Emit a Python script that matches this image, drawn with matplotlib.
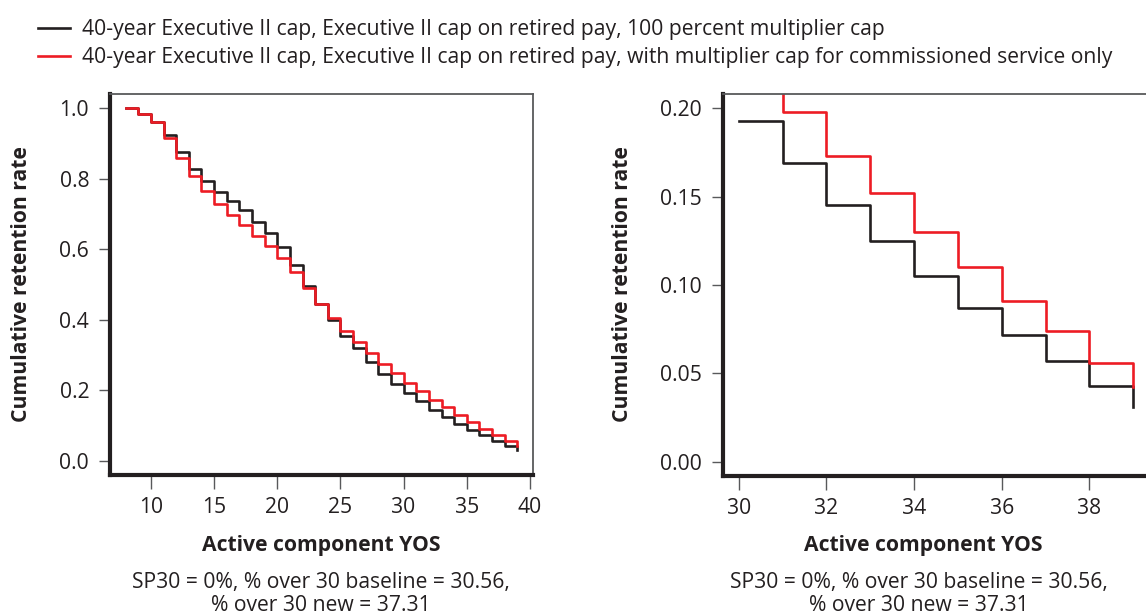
import matplotlib
matplotlib.use("Agg")
import matplotlib.pyplot as plt
from matplotlib.ticker import FormatStrFormatter

plt.rcParams["font.family"] = ["Open Sans", "DejaVu Sans"]

# Retention by active component YOS (values held from each year to the next)
yos = list(range(8, 40))
retention_100pct_cap = [1.000, 0.984, 0.960, 0.925, 0.875, 0.828, 0.794, 0.763,
                        0.737, 0.712, 0.678, 0.645, 0.606, 0.556, 0.495, 0.445,
                        0.400, 0.354, 0.319, 0.281, 0.247, 0.219, 0.193, 0.169,
                        0.145, 0.125, 0.105, 0.087, 0.072, 0.057, 0.043, 0.031]
retention_comm_cap = [1.000, 0.984, 0.960, 0.915, 0.859, 0.807, 0.766, 0.729,
                      0.697, 0.668, 0.637, 0.608, 0.576, 0.536, 0.490, 0.445,
                      0.406, 0.369, 0.338, 0.305, 0.274, 0.249, 0.222, 0.198,
                      0.173, 0.152, 0.130, 0.110, 0.091, 0.074, 0.056, 0.0425]

legend_labels = [
    "40-year Executive II cap, Executive II cap on retired pay, 100 percent multiplier cap",
    "40-year Executive II cap, Executive II cap on retired pay, with multiplier cap for commissioned service only",
]
xlabel = "Active component YOS"
ylabel = "Cumulative retention rate"
note = "SP30 = 0%, % over 30 baseline = 30.56,\n% over 30 new = 37.31"

BLACK = "#231f20"
RED = "#ed1c24"
GRAY = "#58595b"
FS = 15.2

W, H = 1146, 614
fig = plt.figure(figsize=(W / 100, H / 100), dpi=100)


def px_box(x0, x1, y0, y1):
    return [x0 / W, 1 - y1 / H, (x1 - x0) / W, (y1 - y0) / H]


ax1 = fig.add_axes(px_box(110, 533, 94, 475))
ax2 = fig.add_axes(px_box(723, 1149, 94, 476))

# full range on the left, zoom on 30+ YOS on the right
i30 = yos.index(30)
panels = [
    (ax1, yos, retention_100pct_cap, retention_comm_cap),
    (ax2, yos[i30:], retention_100pct_cap[i30:], retention_comm_cap[i30:]),
]
for ax, x, y_black, y_red in panels:
    l1, = ax.step(x, y_black, where="post", color=BLACK, lw=1.9)
    l2, = ax.step(x, y_red, where="post", color=RED, lw=1.9)
    for side in ("left", "bottom"):
        ax.spines[side].set_linewidth(3.0)
        ax.spines[side].set_color(BLACK)
    for side in ("top", "right"):
        ax.spines[side].set_linewidth(1.3)
        ax.spines[side].set_color(GRAY)
    ax.tick_params(axis="both", direction="out", color=GRAY, width=1.0,
                   labelsize=FS, labelcolor=BLACK)
    ax.tick_params(axis="y", length=8, pad=7)
    ax.tick_params(axis="x", length=10, pad=6)

ax1.set_xlim(6.76, 40.24)
ax1.set_ylim(-0.04, 1.04)
ax1.set_xticks([10, 15, 20, 25, 30, 35, 40])
ax1.set_yticks([0.0, 0.2, 0.4, 0.6, 0.8, 1.0])
ax1.yaxis.set_major_formatter(FormatStrFormatter("%.1f"))

ax2.set_xlim(29.64, 39.36)
ax2.set_ylim(-0.008, 0.208)
ax2.set_xticks([30, 32, 34, 36, 38])
ax2.set_yticks([0.0, 0.05, 0.10, 0.15, 0.20])
ax2.yaxis.set_major_formatter(FormatStrFormatter("%.2f"))

# axis titles and notes under each panel
for xc, note_x, yl_x in ((321, 321, 22), (923, 919, 622)):
    fig.text(xc / W, 1 - 546 / H, xlabel, ha="center", va="center",
             fontsize=FS, fontweight="bold", color=BLACK)
    fig.text(note_x / W, 1 - 594 / H, note, ha="center", va="center",
             fontsize=FS, color=BLACK, linespacing=1.12)
    fig.text(yl_x / W, 1 - 284 / H, ylabel, rotation=90, ha="center",
             va="center", fontsize=FS, fontweight="bold", color=BLACK)

fig.legend([l1, l2], legend_labels, loc="upper left",
           bbox_to_anchor=(38 / W, 1 - 19 / H), frameon=False, fontsize=FS,
           handlelength=1.52, handletextpad=0.55, labelspacing=0.35,
           labelcolor=BLACK, borderaxespad=0, borderpad=0)

fig.savefig("out.png", dpi=100)
